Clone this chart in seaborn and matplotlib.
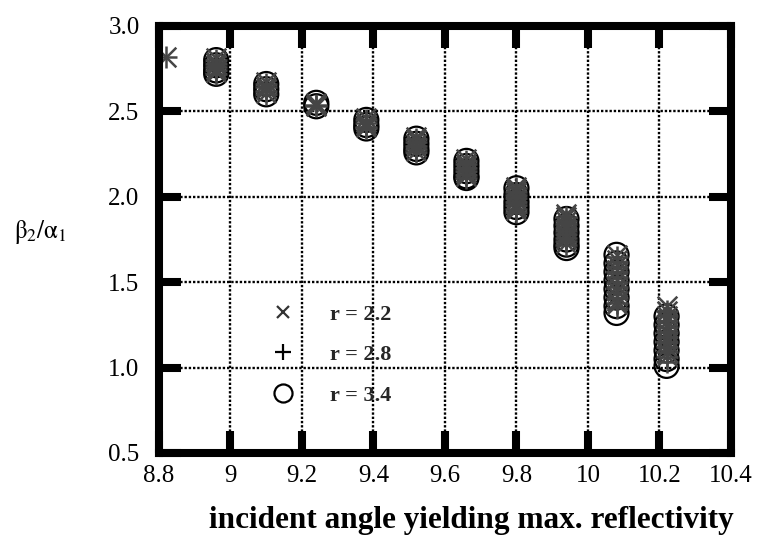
import numpy as np
import pandas as pd
import matplotlib
matplotlib.use("Agg")
import matplotlib.pyplot as plt
from matplotlib.lines import Line2D
import seaborn as sns

# Incident angle of each cluster (x positions)
angles = [8.82, 8.96, 9.10, 9.24, 9.38, 9.52, 9.66, 9.80, 9.94, 10.08, 10.22]

# beta2/alpha1 values at each angle, one list per cluster
ratio_r22 = [
    [2.82],
    [2.81, 2.79, 2.77, 2.75, 2.73],
    [2.67, 2.65, 2.63, 2.61],
    [2.55, 2.54, 2.53],
    [2.46, 2.44, 2.42, 2.41],
    [2.35, 2.33, 2.31, 2.29, 2.27],
    [2.22, 2.20, 2.18, 2.16, 2.14, 2.12],
    [2.06, 2.04, 2.02, 2.00, 1.98, 1.96, 1.94, 1.92],
    [1.90, 1.88, 1.86, 1.83, 1.81, 1.79, 1.77, 1.75, 1.73],
    [1.66, 1.63, 1.60, 1.57, 1.54, 1.51, 1.48, 1.45, 1.42, 1.39, 1.37],
    [1.36, 1.33, 1.30, 1.27, 1.24, 1.21, 1.18, 1.15, 1.12, 1.09, 1.07],
]
ratio_r28 = [
    [2.82],
    [2.80, 2.78, 2.76, 2.74, 2.72],
    [2.66, 2.64, 2.62, 2.60],
    [2.54, 2.53],
    [2.45, 2.43, 2.41, 2.40],
    [2.34, 2.32, 2.30, 2.28, 2.26],
    [2.21, 2.19, 2.17, 2.15, 2.13, 2.11],
    [2.05, 2.03, 2.01, 1.99, 1.97, 1.95, 1.93, 1.91],
    [1.88, 1.86, 1.84, 1.82, 1.80, 1.78, 1.76, 1.74, 1.72],
    [1.65, 1.62, 1.59, 1.56, 1.53, 1.50, 1.47, 1.44, 1.41, 1.38, 1.35],
    [1.33, 1.30, 1.27, 1.24, 1.21, 1.18, 1.15, 1.12, 1.09, 1.06, 1.03],
]
ratio_r34 = [
    [],
    [2.80, 2.77, 2.74, 2.72],
    [2.66, 2.63, 2.60],
    [2.55, 2.53],
    [2.45, 2.42, 2.40],
    [2.34, 2.31, 2.28, 2.26],
    [2.21, 2.18, 2.15, 2.12, 2.11],
    [2.05, 2.01, 1.97, 1.94, 1.91],
    [1.87, 1.83, 1.79, 1.75, 1.72, 1.70],
    [1.66, 1.61, 1.56, 1.51, 1.46, 1.41, 1.36, 1.32],
    [1.30, 1.25, 1.20, 1.15, 1.10, 1.05, 1.01],
]

series_labels = ["r = 2.2", "r = 2.8", "r = 3.4"]

x_ticks = [8.8, 9.0, 9.2, 9.4, 9.6, 9.8, 10.0, 10.2, 10.4]
x_tick_labels = ["8.8", "9", "9.2", "9.4", "9.6", "9.8", "10", "10.2", "10.4"]
y_ticks = [0.5, 1.0, 1.5, 2.0, 2.5, 3.0]
y_tick_labels = ["0.5", "1.0", "1.5", "2.0", "2.5", "3.0"]


def to_frame(ratios, label):
    rows = [(a, v) for a, vals in zip(angles, ratios) for v in vals]
    df = pd.DataFrame(rows, columns=["angle", "ratio"])
    df["r"] = label
    return df


df22 = to_frame(ratio_r22, series_labels[0])
df28 = to_frame(ratio_r28, series_labels[1])
df34 = to_frame(ratio_r34, series_labels[2])

sns.set_theme(style="white")
plt.rcParams["font.family"] = ["Liberation Serif", "DejaVu Serif"]
plt.rcParams["mathtext.fontset"] = "stix"

fig = plt.figure(figsize=(7.59, 5.39), dpi=100)
ax = fig.add_axes([0.2095, 0.1596, 0.7535, 0.7922])

gray = "#454545"
sns.scatterplot(data=df34, x="angle", y="ratio", marker="o", s=300,
                facecolor="none", edgecolor="black", linewidth=1.6,
                ax=ax, zorder=3, legend=False)
sns.scatterplot(data=df22, x="angle", y="ratio", marker="x", s=200,
                color=gray, linewidth=1.8, ax=ax, zorder=4, legend=False)
sns.scatterplot(data=df28, x="angle", y="ratio", marker="+", s=240,
                color=gray, linewidth=1.8, ax=ax, zorder=4, legend=False)

ax.set_xlim(8.8, 10.4)
ax.set_ylim(0.5, 3.0)
ax.set_xticks(x_ticks)
ax.set_xticklabels(x_tick_labels)
ax.set_yticks(y_ticks)
ax.set_yticklabels(y_tick_labels)

ax.grid(True, color="black", linestyle=(0, (1, 0.8)), linewidth=1.7, zorder=1)
ax.set_axisbelow(True)

for sp in ax.spines.values():
    sp.set_visible(True)
    sp.set_color("black")
    sp.set_linewidth(5.8)
    sp.set_zorder(6)

ax.tick_params(axis="both", which="major", direction="in", length=16,
               width=5.8, color="black", labelsize=18, labelcolor="black",
               top=True, right=True, bottom=True, left=True)
ax.tick_params(axis="x", pad=9)
ax.tick_params(axis="y", pad=14)

ax.set_xlabel("incident angle yielding max. reflectivity", fontsize=22.5,
              fontweight="bold", color="black")
ax.xaxis.set_label_coords(0.546, -0.124)
ax.set_ylabel(r"$\mathrm{\beta_2/\alpha_1}$", fontsize=18, rotation=0,
              color="black", ha="center", va="center")
ax.yaxis.set_label_coords(-0.208, 0.518)

handles = [
    Line2D([], [], linestyle="none", marker="x", markersize=9,
           markeredgewidth=1.6, color="#333333"),
    Line2D([], [], linestyle="none", marker="+", markersize=11,
           markeredgewidth=1.6, color="black"),
    Line2D([], [], linestyle="none", marker="o", markersize=13,
           markeredgewidth=1.6, markerfacecolor="none", color="black"),
]
ax.legend(handles, series_labels, loc="upper left",
          bbox_to_anchor=(0.178, 0.375), frameon=False, borderpad=0,
          handlelength=1.0, handletextpad=1.6, labelspacing=0.9,
          prop={"family": "Liberation Serif", "weight": "bold", "size": 16})

fig.savefig("out.png", dpi=100, facecolor="white")
